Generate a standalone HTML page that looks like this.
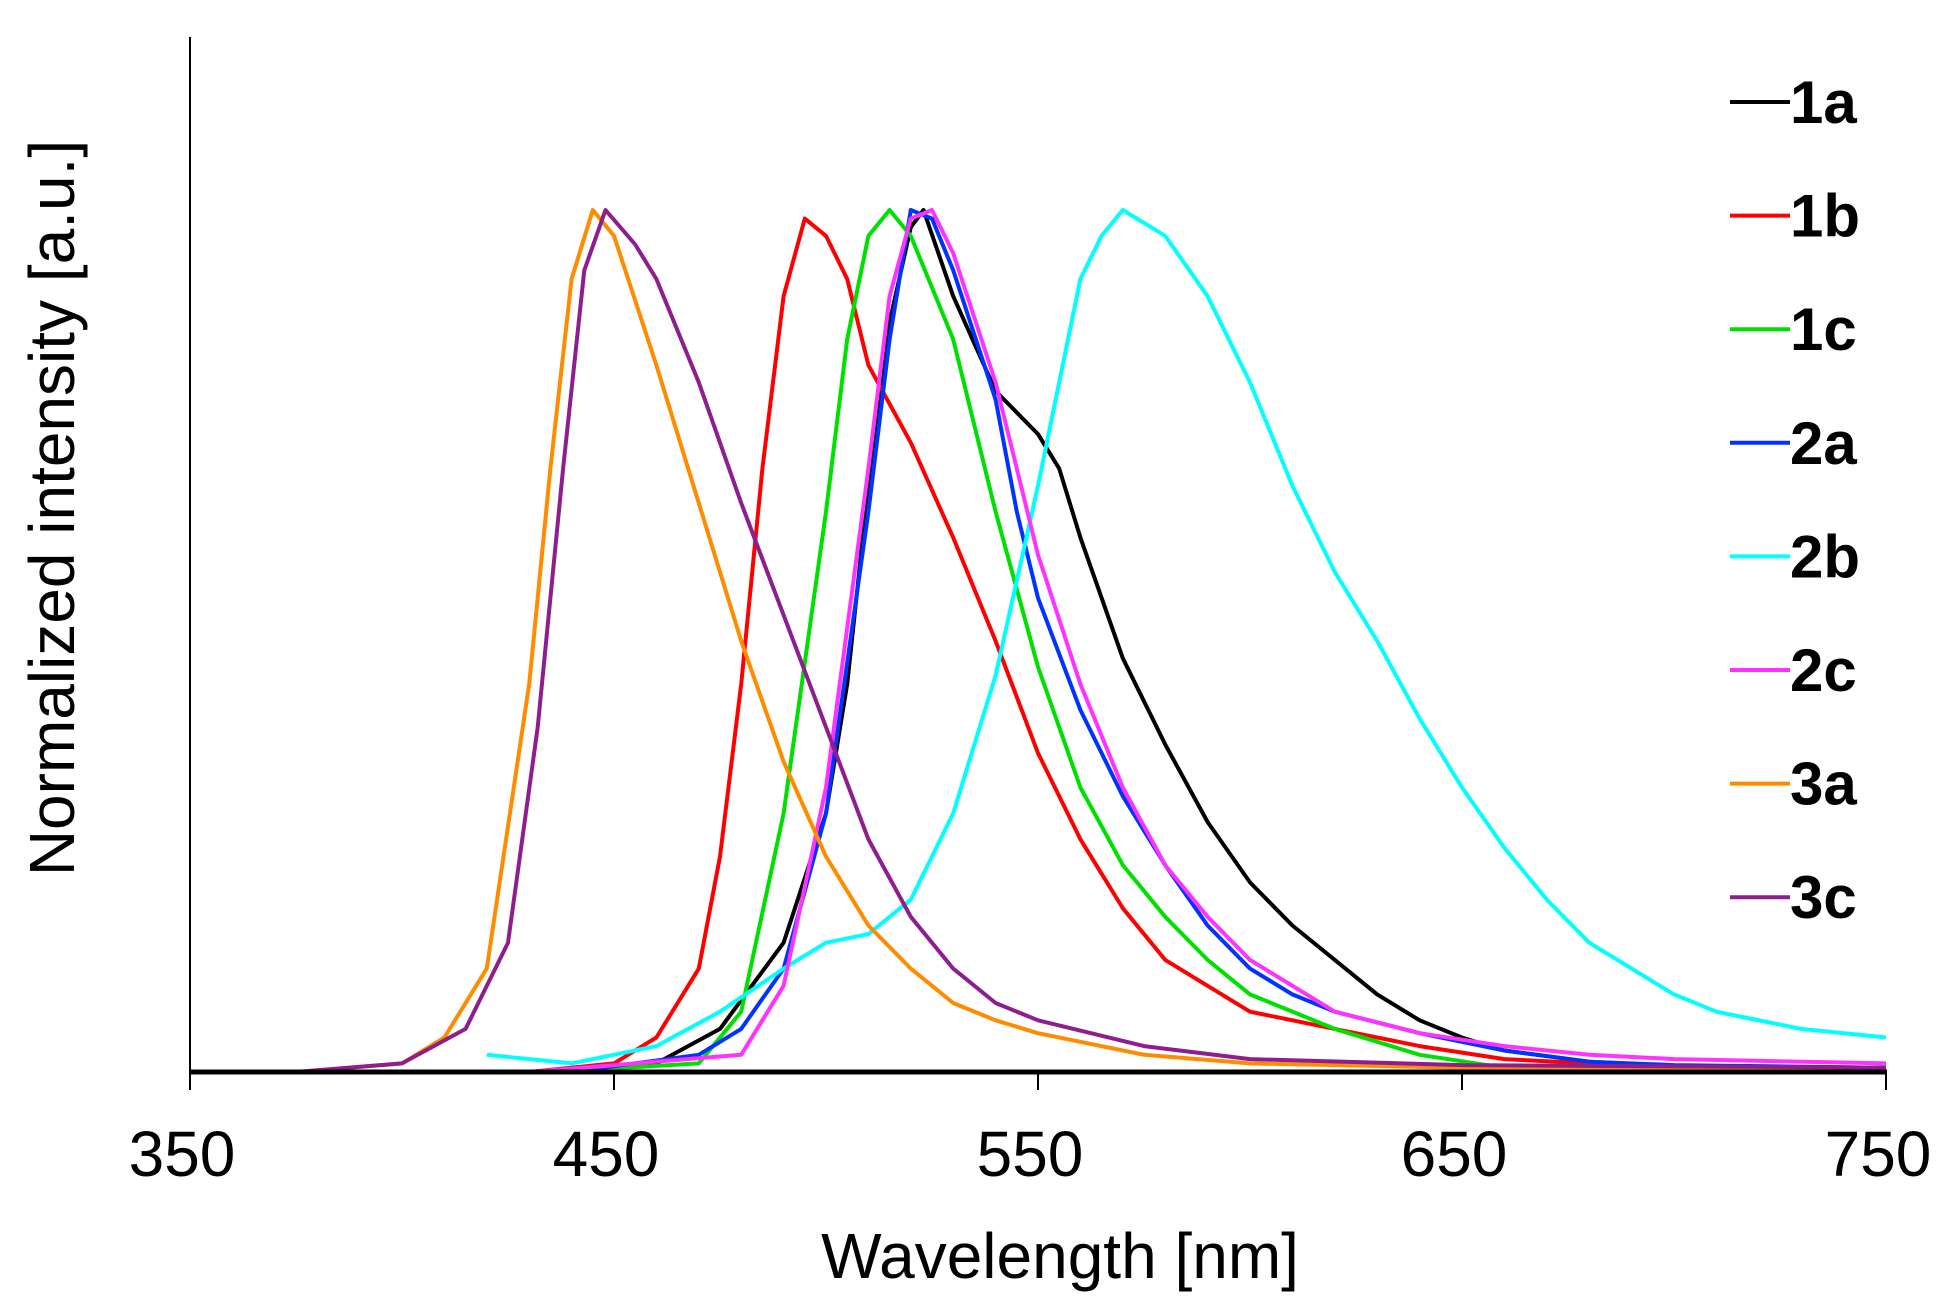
<!DOCTYPE html>
<html><head><meta charset="utf-8"><style>
body{margin:0;background:#fff}
svg{display:block;font-family:"Liberation Sans",sans-serif}
</style></head><body>
<svg id="chart" width="1948" height="1311" viewBox="0 0 1948 1311" xmlns="http://www.w3.org/2000/svg">
<rect width="1948" height="1311" fill="#fff"/>
<g id="series"></g>
<g id="axes"></g>
<g id="legend"></g>
</svg>
<script>
const xTicks=[350,450,550,650,750];
const seriesNames=["1a","1b","1c","2a","2b","2c","3a","3c"];
const seriesColors=["#000000","#ff0000","#00e000","#0033ff","#00ffff","#ff33ff","#ff8c00","#8e1e8e"];
const wl1a=[440,460,475,490,500,505,510,515,520,523,530,540,550,555,560,570,580,590,600,610,620,630,640,650,660,680,700,750];
const v1a=[0,0.01,0.05,0.15,0.3,0.45,0.68,0.87,0.98,1.0,0.9,0.79,0.74,0.7,0.62,0.48,0.38,0.29,0.22,0.17,0.13,0.09,0.06,0.04,0.025,0.012,0.007,0.005];
const wl1b=[430,450,460,470,475,480,485,490,495,500,505,510,520,530,540,550,560,570,580,590,600,620,640,660,700,750];
const v1b=[0,0.01,0.04,0.12,0.25,0.45,0.7,0.9,0.99,0.97,0.92,0.82,0.73,0.62,0.5,0.37,0.27,0.19,0.13,0.1,0.07,0.05,0.03,0.015,0.005,0];
const wl1c=[435,470,480,490,500,505,510,515,520,530,540,550,560,570,580,590,600,620,640,660,750];
const v1c=[0,0.01,0.07,0.3,0.65,0.85,0.97,1.0,0.97,0.85,0.65,0.47,0.33,0.24,0.18,0.13,0.09,0.05,0.02,0.005,0];
const wl2a=[440,470,480,490,500,510,515,520,525,530,540,545,550,560,570,580,590,600,610,620,640,660,680,700,750];
const v2a=[0,0.02,0.05,0.12,0.3,0.65,0.85,1.0,0.99,0.93,0.78,0.65,0.55,0.42,0.32,0.24,0.17,0.12,0.09,0.07,0.045,0.025,0.012,0.008,0.005];
const wl2b=[420,440,460,475,490,500,510,520,530,540,550,555,560,565,570,580,590,600,610,620,630,640,650,660,670,680,690,700,710,730,750];
const v2b=[0.02,0.01,0.03,0.07,0.12,0.15,0.16,0.2,0.3,0.46,0.68,0.8,0.92,0.97,1.0,0.97,0.9,0.8,0.68,0.58,0.5,0.41,0.33,0.26,0.2,0.15,0.12,0.09,0.07,0.05,0.04];
const wl2c=[430,480,490,500,510,515,520,525,530,540,550,560,570,580,590,600,620,640,660,680,700,750];
const v2c=[0,0.02,0.1,0.33,0.7,0.9,0.99,1.0,0.95,0.8,0.6,0.45,0.33,0.24,0.18,0.13,0.07,0.045,0.03,0.02,0.015,0.01];
const wl3a=[375,400,410,420,430,435,440,445,450,460,470,480,490,500,510,520,530,540,550,575,600,650,750];
const v3a=[0,0.01,0.04,0.12,0.45,0.7,0.92,1.0,0.97,0.82,0.66,0.5,0.36,0.25,0.17,0.12,0.08,0.06,0.045,0.02,0.01,0.005,0];
const wl3c=[375,400,415,425,432,438,443,448,455,460,470,480,490,500,510,520,530,540,550,575,600,650,750];
const v3c=[0,0.01,0.05,0.15,0.4,0.7,0.93,1.0,0.96,0.92,0.8,0.66,0.53,0.4,0.27,0.18,0.12,0.08,0.06,0.03,0.015,0.008,0.005];
const allWl=[wl1a,wl1b,wl1c,wl2a,wl2b,wl2c,wl3a,wl3c];
const allV=[v1a,v1b,v1c,v2a,v2b,v2c,v3a,v3c];

const NS="http://www.w3.org/2000/svg";
const X0=190,X1=1886,Y0=1072,YP=210;
function xs(w){return X0+(w-350)/(750-350)*(X1-X0);}
function ys(v){return Y0-v*(Y0-YP);}
function mk(tag,attrs,parent){const e=document.createElementNS(NS,tag);for(const k in attrs)e.setAttribute(k,attrs[k]);parent.appendChild(e);return e;}

const sg=document.getElementById('series');
for(let i=0;i<seriesNames.length;i++){
  const pts=allWl[i].map((w,j)=>xs(w).toFixed(1)+","+ys(allV[i][j]).toFixed(1)).join(" ");
  const p=mk('polyline',{points:pts,fill:'none',stroke:seriesColors[i],'stroke-width':4,'stroke-linejoin':'round'},sg);
  
  
}

const ag=document.getElementById('axes');
const ya=mk('line',{x1:X0,y1:37,x2:X0,y2:Y0,stroke:'#000','stroke-width':2},ag);


const xa=mk('line',{x1:X0-1,y1:Y0,x2:X1+1,y2:Y0,stroke:'#000','stroke-width':5},ag);


xTicks.forEach(t=>{
  const tk=mk('line',{x1:xs(t),y1:Y0,x2:xs(t),y2:Y0+18,stroke:'#000','stroke-width':2},ag);
  
  
  const tl=mk('text',{x:xs(t)-8,y:1176,'text-anchor':'middle','font-size':64},ag);
  tl.textContent=t;
  
  
});
const xt=mk('text',{x:1060,y:1278,'text-anchor':'middle','font-size':64},ag);
xt.textContent="Wavelength [nm]";


const yt=mk('text',{x:0,y:0,'text-anchor':'middle','font-size':64,transform:'translate(74,508) rotate(-90)'},ag);
yt.textContent="Normalized intensity [a.u.]";



const lg=document.getElementById('legend');
seriesNames.forEach((n,i)=>{
  const y=102+i*113.6;
  const g=mk('g',{},lg);
  
  
  mk('line',{x1:1730,y1:y,x2:1790,y2:y,stroke:seriesColors[i],'stroke-width':4},g);
  const t=mk('text',{x:1790,y:y+21,'font-size':60,'font-weight':'bold'},g);
  t.textContent=n;
});
</script>
</body></html>
